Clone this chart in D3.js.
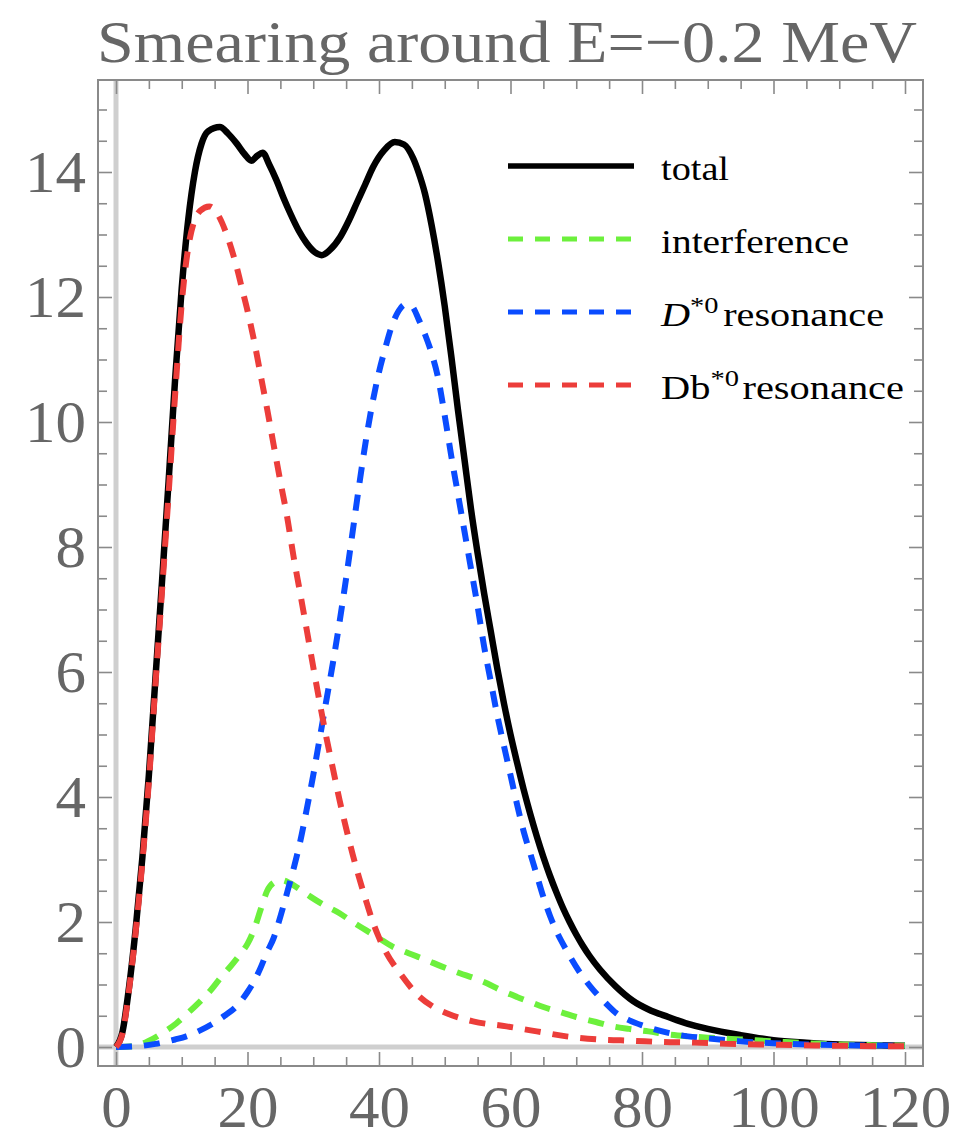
<!DOCTYPE html>
<html>
<head>
<meta charset="utf-8">
<script src="https://cdn.jsdelivr.net/npm/d3@7"></script>
<style>
body { margin: 0; background: #fff; }
text { font-family: "Liberation Serif", "DejaVu Serif", serif; }
</style>
</head>
<body>
<div id="chart"></div>
<script>
// curves, [x, y]
const totalPts = [[0,0],[1,0.25],[2,0.97],[3,1.9],[4,3.02],[5,4.35],[6,5.9],[7,7.45],[8,9.05],[9,10.7],[10,12.15],[11,13.25],[12,14.0],[13,14.45],[14,14.65],[15.8,14.72],[17,14.62],[18.4,14.45],[19.6,14.28],[20.6,14.18],[21.5,14.26],[22.3,14.31],[23.3,14.12],[24.4,13.87],[25.5,13.58],[26.5,13.34],[27.8,13.06],[29,12.86],[30.2,12.72],[31.3,12.67],[32.5,12.75],[34.1,12.96],[35.4,13.22],[36.6,13.5],[37.9,13.8],[39.1,14.08],[40.8,14.35],[42.4,14.48],[43.8,14.44],[45.2,14.22],[46,14.0],[47,13.65],[48,13.15],[49,12.55],[50,11.85],[51,11.05],[52,10.2],[53,9.4],[54,8.6],[55,7.9],[56,7.25],[57,6.65],[58,6.05],[59,5.5],[60,5.0],[61,4.55],[62,4.12],[63,3.73],[64,3.37],[65,3.04],[66,2.74],[67,2.47],[68,2.22],[69,2.0],[70,1.8],[71,1.62],[72,1.46],[73.6,1.24],[76,0.97],[78.6,0.74],[81,0.6],[84,0.48],[87,0.37],[90,0.29],[95,0.19],[100,0.11],[105,0.07],[110,0.04],[115,0.03],[120,0.02]];
const interfPts = [[0,0],[3,0.02],[5.2,0.11],[7,0.22],[9.2,0.38],[11,0.55],[12.8,0.73],[14.5,0.92],[16,1.12],[17.5,1.3],[19,1.5],[20,1.65],[21,1.88],[22,2.2],[23,2.5],[24,2.63],[25.2,2.67],[26.5,2.62],[28,2.52],[29.5,2.41],[31.5,2.28],[34,2.14],[36,2.0],[38,1.87],[40,1.74],[42,1.61],[44.5,1.5],[47,1.4],[49.5,1.29],[52.3,1.18],[54.5,1.1],[56.4,1.02],[58.5,0.91],[61,0.8],[63,0.72],[65,0.64],[67.5,0.56],[70,0.48],[73,0.4],[75.6,0.33],[78,0.29],[81,0.25],[84,0.2],[87,0.17],[90,0.15],[95,0.12],[100,0.09],[105,0.06],[110,0.04],[115,0.03],[120,0.02]];
const dStarPts = [[0,0],[3,0.01],[6,0.05],[9,0.12],[10.7,0.17],[12.5,0.25],[14.5,0.36],[16.5,0.5],[18.4,0.66],[20,0.88],[21,1.05],[22,1.27],[22.9,1.5],[24,1.75],[24.7,1.98],[26,2.46],[27,2.85],[28,3.28],[29,3.8],[30,4.35],[31,4.95],[32,5.55],[33,6.15],[34,6.8],[35,7.5],[36,8.25],[37,9.0],[38,9.7],[39,10.3],[40,10.8],[41,11.2],[42,11.55],[43,11.78],[44,11.88],[45,11.85],[46,11.65],[47,11.4],[48,11.1],[49,10.7],[50,10.1],[51,9.45],[52,8.85],[53,8.25],[54,7.65],[55,7.05],[56,6.4],[57,5.85],[58,5.3],[59,4.82],[60,4.35],[61,3.88],[62,3.45],[63,3.1],[64,2.75],[65,2.4],[66,2.1],[67,1.85],[68.5,1.55],[70.5,1.2],[72.6,0.91],[74.5,0.7],[76.1,0.54],[78,0.43],[80.2,0.34],[84.7,0.21],[89.8,0.14],[95,0.09],[100,0.06],[105,0.04],[110,0.03],[120,0.02]];
const dbStarPts = [[0,0],[1,0.22],[2,0.93],[3,1.85],[4,2.95],[5,4.25],[6,5.8],[7,7.3],[8,8.85],[9,10.45],[10,11.9],[11,12.8],[11.8,13.18],[12.8,13.38],[14.2,13.45],[15.6,13.3],[17,12.95],[18.3,12.5],[19.2,12.12],[20,11.78],[21,11.3],[22,10.75],[23,10.2],[24,9.62],[25,9.05],[26,8.5],[27,7.85],[28,7.27],[29,6.68],[30,6.08],[31,5.5],[32,4.95],[33,4.45],[34,3.95],[35,3.5],[36,3.08],[37,2.7],[38,2.35],[39,2.02],[40,1.75],[41,1.53],[43.2,1.18],[46.2,0.8],[48,0.66],[50.3,0.54],[54.3,0.41],[59.4,0.33],[64,0.25],[68.5,0.17],[73.6,0.12],[78.6,0.1],[83,0.08],[88,0.07],[93,0.05],[98,0.04],[104,0.03],[110,0.02],[120,0.01]];

const xTicks = [0, 20, 40, 60, 80, 100, 120];
const yTicks = [0, 2, 4, 6, 8, 10, 12, 14];
const xMinor = d3.range(0, 121, 5).filter(v => v % 20 !== 0);
const yMinor = d3.range(0, 15.01, 0.5).filter(v => v % 2 !== 0);

const title = "Smearing around E=\u22120.2 MeV";

const width = 957, height = 1135;
const frame = { left: 98, right: 923, top: 80, bottom: 1066 };

const svg = d3.select("#chart")
    .append("svg")
    .attr("width", width)
    .attr("height", height);

const x = d3.scaleLinear().domain([0, 120]).range([116, 905]);
const y = d3.scaleLinear().domain([0, 14]).range([1047, 172]);

const tickColor = "#8a8a8a", labelColor = "#666";
const serif = "'Liberation Serif', 'DejaVu Serif', serif";

// gray axes through zero
svg.append("line")
    .attr("x1", x(0)).attr("x2", x(0))
    .attr("y1", frame.top).attr("y2", frame.bottom)
    .attr("stroke", "#cfcfcf").attr("stroke-width", 5);
svg.append("line")
    .attr("x1", frame.left).attr("x2", frame.right)
    .attr("y1", y(0)).attr("y2", y(0))
    .attr("stroke", "#cfcfcf").attr("stroke-width", 5);

// frame ticks: major and minor on all four sides
function styleAxis(g) {
    g.select(".domain").remove();
    g.selectAll(".tick line").attr("stroke", tickColor).attr("stroke-width", 1.6);
    g.selectAll(".tick text")
        .attr("fill", labelColor)
        .attr("textLength", d => String(d).length * 30.5)
        .attr("lengthAdjust", "spacingAndGlyphs")
        .style("font-family", serif)
        .style("font-size", "60px");
}

svg.append("g")
    .attr("transform", `translate(0, ${frame.bottom})`)
    .call(d3.axisBottom(x).tickValues(xTicks).tickSize(-14).tickPadding(18).tickSizeOuter(0))
    .call(styleAxis);
svg.append("g")
    .attr("transform", `translate(0, ${frame.bottom})`)
    .call(d3.axisBottom(x).tickValues(xMinor).tickSize(-9).tickFormat(""))
    .call(styleAxis);
svg.append("g")
    .attr("transform", `translate(0, ${frame.top})`)
    .call(d3.axisTop(x).tickValues(xTicks).tickSize(-14).tickFormat(""))
    .call(styleAxis);
svg.append("g")
    .attr("transform", `translate(0, ${frame.top})`)
    .call(d3.axisTop(x).tickValues(xMinor).tickSize(-9).tickFormat(""))
    .call(styleAxis);

svg.append("g")
    .attr("transform", `translate(${frame.left}, 0)`)
    .call(d3.axisLeft(y).tickValues(yTicks).tickSize(-14).tickPadding(12).tickSizeOuter(0))
    .call(styleAxis);
svg.append("g")
    .attr("transform", `translate(${frame.left}, 0)`)
    .call(d3.axisLeft(y).tickValues(yMinor).tickSize(-9).tickFormat(""))
    .call(styleAxis);
svg.append("g")
    .attr("transform", `translate(${frame.right}, 0)`)
    .call(d3.axisRight(y).tickValues(yTicks).tickSize(-14).tickFormat(""))
    .call(styleAxis);
svg.append("g")
    .attr("transform", `translate(${frame.right}, 0)`)
    .call(d3.axisRight(y).tickValues(yMinor).tickSize(-9).tickFormat(""))
    .call(styleAxis);

svg.append("rect")
    .attr("x", frame.left).attr("y", frame.top)
    .attr("width", frame.right - frame.left)
    .attr("height", frame.bottom - frame.top)
    .attr("fill", "none")
    .attr("stroke", tickColor)
    .attr("stroke-width", 2);

// curves
const line = d3.line()
    .x(d => x(d[0]))
    .y(d => y(d[1]))
    .curve(d3.curveMonotoneX);

const series = [
    { pts: totalPts, color: "#000", dash: null, w: 6.5 },
    { pts: interfPts, color: "#6cf03c", dash: "16,12", w: 6 },
    { pts: dStarPts, color: "#0a4cff", dash: "16,12", w: 6 },
    { pts: dbStarPts, color: "#ec3d3a", dash: "16,12", w: 6 }
];

svg.selectAll("path.curve")
    .data(series)
    .enter().append("path")
    .attr("class", "curve")
    .attr("d", d => line(d.pts))
    .attr("fill", "none")
    .attr("stroke", d => d.color)
    .attr("stroke-width", d => d.w)
    .attr("stroke-dasharray", d => d.dash);

// legend
const legendRows = [166, 239, 312, 385];
const legendWidths = [68, 188, 223, 243];
const leg = svg.append("g");
series.forEach((s, i) => {
    leg.append("line")
        .attr("x1", 508).attr("x2", 634)
        .attr("y1", legendRows[i]).attr("y2", legendRows[i])
        .attr("stroke", s.color)
        .attr("stroke-width", i === 0 ? 5.5 : 5)
        .attr("stroke-dasharray", s.dash ? "15,12" : null);
});

function legendText(i) {
    return leg.append("text")
        .attr("x", 661)
        .attr("y", legendRows[i] + 14)
        .attr("fill", "#000")
        .attr("textLength", legendWidths[i])
        .attr("lengthAdjust", "spacingAndGlyphs")
        .style("font-size", "34px");
}
legendText(0).text("total");
legendText(1).text("interference");
const t2 = legendText(2);
t2.append("tspan").style("font-style", "italic").text("D");
t2.append("tspan").attr("dy", -13).style("font-size", "24px").text("*0");
t2.append("tspan").attr("dy", 13).attr("dx", 4).text("resonance");
const t3 = legendText(3);
t3.append("tspan").text("Db");
t3.append("tspan").attr("dy", -13).style("font-size", "24px").text("*0");
t3.append("tspan").attr("dy", 13).attr("dx", 3).text("resonance");

// title
svg.append("text")
    .attr("x", 507)
    .attr("y", 62)
    .attr("text-anchor", "middle")
    .attr("fill", "#666")
    .attr("textLength", 820)
    .attr("lengthAdjust", "spacingAndGlyphs")
    .style("font-size", "60px")
    .text(title);
</script>
</body>
</html>
